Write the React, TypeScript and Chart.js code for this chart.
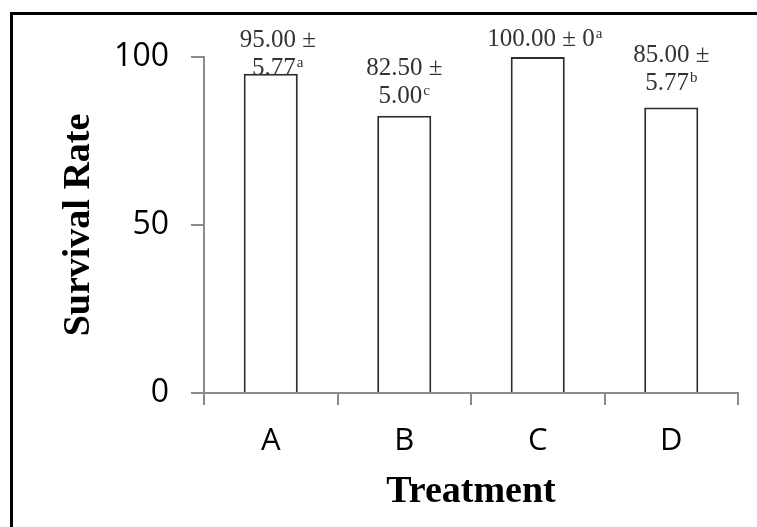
import React, { useEffect, useRef } from 'react';
import { Chart, registerables } from 'chart.js';

Chart.register(...registerables);

// ---- data ----
const categories = ['A', 'B', 'C', 'D'];
const survivalRate = [95, 82.5, 100, 85];
const labelLines: string[][] = [['95.00 ±', '5.77'], ['82.50 ±', '5.00'], ['100.00 ± 0'], ['85.00 ±', '5.77']];
const letters = ['a', 'c', 'a', 'b'];
const yMin = 0;
const yMax = 100;
const yStep = 50;

const axisColor = '#8a8a8a';

const labelPlugin = {
  id: 'barLabels',
  afterDatasetsDraw(chart: any, _args: any, opts: any) {
    const ctx = chart.ctx as CanvasRenderingContext2D;
    const meta = chart.getDatasetMeta(0);
    meta.data.forEach((bar: any, i: number) => {
      const lines = labelLines[i];
      const dx = (opts.dx && opts.dx[i]) || 0;
      const dy = (opts.dy && opts.dy[i]) || 0;
      const mainFont = '25px "Liberation Serif"';
      const supFont = '15px "Liberation Serif"';
      const lineH = 28;
      ctx.save();
      ctx.fillStyle = '#333333';
      ctx.textAlign = 'left';
      ctx.textBaseline = 'alphabetic';
      let baseY = bar.y - 13 + dy;
      for (let j = lines.length - 1; j >= 0; j--) {
        const isLast = j === lines.length - 1;
        ctx.font = mainFont;
        const w = ctx.measureText(lines[j]).width;
        let sw = 0;
        if (isLast) {
          ctx.font = supFont;
          sw = ctx.measureText(letters[i]).width + 1;
        }
        const x0 = bar.x + dx - (w + sw) / 2;
        ctx.font = mainFont;
        ctx.fillText(lines[j], x0, baseY);
        if (isLast) {
          ctx.font = supFont;
          ctx.fillText(letters[i], x0 + w + 1, baseY - 8);
        }
        baseY -= lineH;
      }
      ctx.restore();
    });
  },
};

export default function App() {
  const ref = useRef<HTMLCanvasElement>(null);

  useEffect(() => {
    const chart = new Chart(ref.current as HTMLCanvasElement, {
      type: 'bar',
      data: {
        labels: categories,
        datasets: [
          {
            data: survivalRate,
            backgroundColor: '#ffffff',
            borderColor: '#2e2e2e',
            borderWidth: 2,
            barPercentage: 0.405,
            categoryPercentage: 1,
          },
        ],
      },
      options: {
        responsive: false,
        animation: false,
        layout: { padding: { top: 57, right: 19, left: 0, bottom: 0 } },
        plugins: {
          legend: { display: false },
          tooltip: { enabled: false },
          barLabels: { dx: [7, 0, 7, 0], dy: [14, 0, 2, -4] },
        } as any,
        scales: {
          x: {
            grid: { drawOnChartArea: false, tickLength: 12, color: axisColor, lineWidth: 2 },
            border: { color: axisColor, width: 2 },
            ticks: { font: { family: 'Open Sans', size: 31 }, color: '#000', padding: 18 },
            title: {
              display: true,
              text: 'Treatment',
              font: { family: 'Liberation Serif', size: 38, weight: 'bold' },
              color: '#000',
              padding: { top: 0, bottom: 12 },
            },
            afterFit: (s: any) => {
              s.height = 134;
            },
          },
          y: {
            min: yMin,
            max: yMax,
            grid: { drawOnChartArea: false, tickLength: 13, color: axisColor, lineWidth: 2 },
            border: { color: axisColor, width: 2 },
            ticks: { stepSize: yStep, font: { family: 'Open Sans', size: 32 }, color: '#000', padding: 22 },
            title: {
              display: true,
              text: 'Survival Rate',
              font: { family: 'Liberation Serif', size: 38, weight: 'bold' },
              color: '#000',
              padding: { top: 56, bottom: 0 },
            },
            afterFit: (s: any) => {
              s.width = 204;
            },
          },
        } as any,
      },
      plugins: [labelPlugin],
    });
    return () => chart.destroy();
  }, []);

  return (
    <div
      style={{
        position: 'fixed',
        left: 0,
        top: 0,
        width: 757,
        height: 527,
        background: '#fff',
        overflow: 'hidden',
      }}
    >
      <div
        style={{
          position: 'absolute',
          left: 10,
          top: 12,
          width: 800,
          height: 600,
          borderLeft: '3px solid #000',
          borderTop: '3px solid #000',
        }}
      />
      <canvas
        ref={ref}
        width={757}
        height={527}
        style={{ position: 'absolute', left: 0, top: 0, width: 757, height: 527 }}
      />
    </div>
  );
}
